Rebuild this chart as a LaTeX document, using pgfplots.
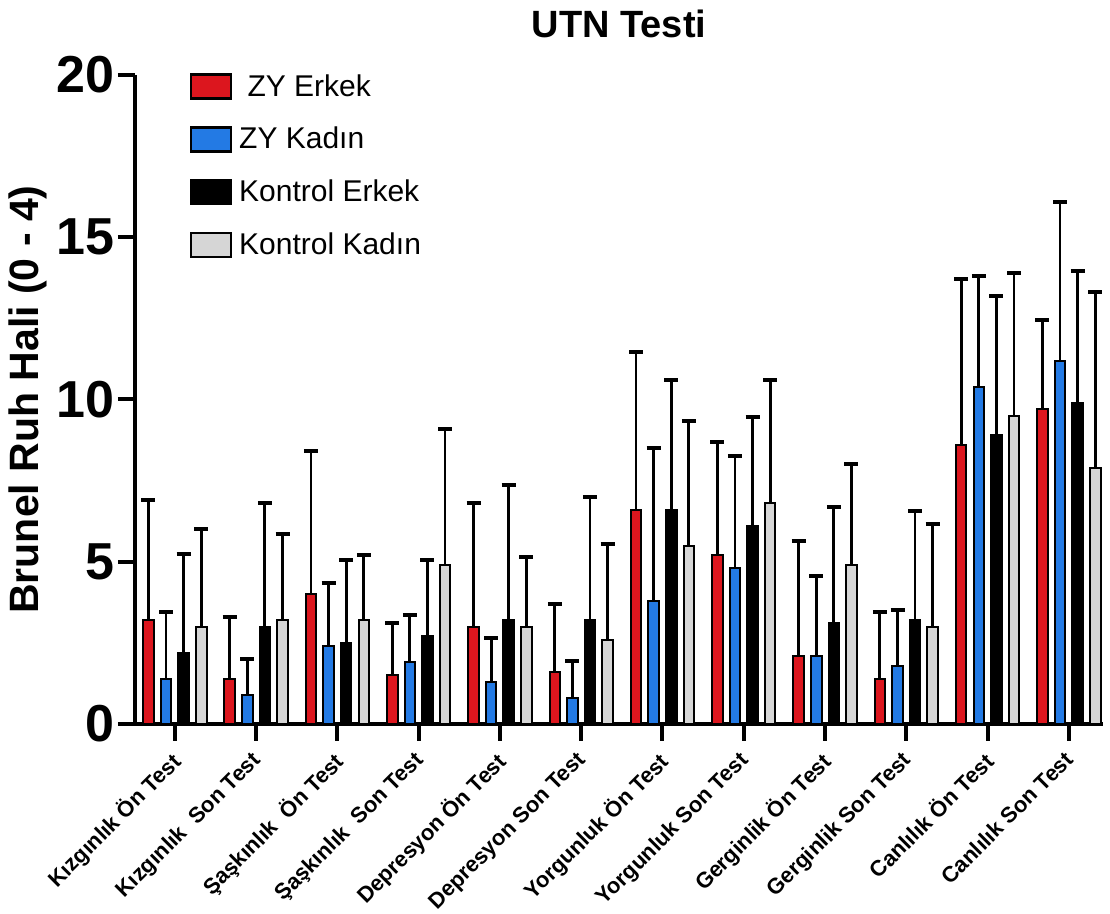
\documentclass[border=0pt]{standalone}
\usepackage{pgfplots}
\pgfplotsset{compat=1.18}
\usepackage{pgfplotstable}
\usepackage{fontspec}
\setmainfont{Liberation Sans}
\definecolor{cred}{RGB}{220,22,30}
\definecolor{cblue}{RGB}{35,122,228}
\definecolor{cgray}{RGB}{214,214,214}
\pgfplotstableread{
x y ey
0 3.2 3.7
1 1.4 1.9
2 4.0 4.4
3 1.5 1.6
4 3.0 3.8
5 1.6 2.1
6 6.6 4.85
7 5.2 3.5
8 2.1 3.55
9 1.4 2.05
10 8.6 5.1
11 9.7 2.75
}\zyerkek
\pgfplotstableread{
x y ey
0 1.4 2.05
1 0.9 1.1
2 2.4 1.95
3 1.9 1.45
4 1.3 1.35
5 0.8 1.15
6 3.8 4.7
7 4.8 3.45
8 2.1 2.45
9 1.8 1.7
10 10.4 3.4
11 11.2 4.9
}\zykadin
\pgfplotstableread{
x y ey
0 2.2 3.05
1 3.0 3.8
2 2.5 2.55
3 2.7 2.35
4 3.2 4.15
5 3.2 3.8
6 6.6 4.0
7 6.1 3.35
8 3.1 3.6
9 3.2 3.35
10 8.9 4.3
11 9.9 4.05
}\konerkek
\pgfplotstableread{
x y ey
0 3.0 3.0
1 3.2 2.65
2 3.2 2.0
3 4.9 4.2
4 3.0 2.15
5 2.6 2.95
6 5.5 3.85
7 6.8 3.8
8 4.9 3.1
9 3.0 3.15
10 9.5 4.4
11 7.9 5.4
}\konkadin
\begin{document}
\begin{tikzpicture}
\begin{axis}[
  at={(0,0)}, anchor=south west,
  scale only axis, width=484pt, height=324.5pt,
  xmin=-0.49, xmax=11.42, ymin=0, ymax=20,
  axis lines*=left,
  axis line style={line width=2pt, -},
  xtick={0,...,11},
  xticklabels={Kızgınlık Ön Test, Kızgınlık\ \ Son Test, Şaşkınlık\ \ Ön Test, Şaşkınlık\ \ Son Test, Depresyon Ön Test, Depresyon Son Test, Yorgunluk Ön Test, Yorgunluk Son Test, Gerginlik Ön Test, Gerginlik Son Test, Canlılık Ön Test, Canlılık Son Test},
  x tick label style={rotate=45, anchor=north east, font=\fontsize{11}{13}\selectfont\bfseries, inner sep=1pt, yshift=0pt, xshift=-4pt},
  ytick={0,5,10,15,20},
  y tick label style={font=\fontsize{26}{30}\selectfont\bfseries, inner sep=1.5pt},
  /pgf/number format/assume math mode=true,
  tick align=outside,
  major tick length=8.5pt,
  tick style={line width=2pt, black},
  ylabel={Brunel Ruh Hali (0 - 4)},
  ylabel style={font=\fontsize{20.5}{24}\selectfont\bfseries, yshift=0pt},
  title={UTN Testi},
  title style={font=\fontsize{19}{22}\selectfont\bfseries, yshift=9pt},
  legend style={draw=none, fill=none, at={(rel axis cs:0.05,1.014)}, anchor=north west,
    font=\fontsize{15}{18}\selectfont, row sep=10pt, legend cell align=left,
    /tikz/every odd column/.append style={column sep=1.5pt}},
  legend image code/.code={\draw[#1, line width=1.2pt] (0pt,-6pt) rectangle (20pt,6pt);},
  error bars/y dir=plus,
  error bars/y explicit,
  error bars/error bar style={line width=1.4pt, black},
  error bars/error mark options={rotate=90, mark size=3.5pt, line width=2pt, black},
]
\addplot[ybar, bar width=0.13, bar shift=0, fill=cred, draw=black, line width=1pt] table[x expr=\thisrow{x}-0.325, y=y, y error=ey]{\zyerkek};
\addlegendentry{\ ZY Erkek}
\addplot[ybar, bar width=0.13, bar shift=0, fill=cblue, draw=black, line width=1pt] table[x expr=\thisrow{x}-0.108, y=y, y error=ey]{\zykadin};
\addlegendentry{ZY Kadın}
\addplot[ybar, bar width=0.13, bar shift=0, fill=black, draw=black, line width=1pt] table[x expr=\thisrow{x}+0.108, y=y, y error=ey]{\konerkek};
\addlegendentry{Kontrol Erkek}
\addplot[ybar, bar width=0.13, bar shift=0, fill=cgray, draw=black, line width=1pt] table[x expr=\thisrow{x}+0.325, y=y, y error=ey]{\konkadin};
\addlegendentry{Kontrol Kadın}
\end{axis}
\pgfresetboundingbox
\path[use as bounding box] (-67.5pt,-95pt) rectangle (487.5pt,362pt);
\end{tikzpicture}
\end{document}
